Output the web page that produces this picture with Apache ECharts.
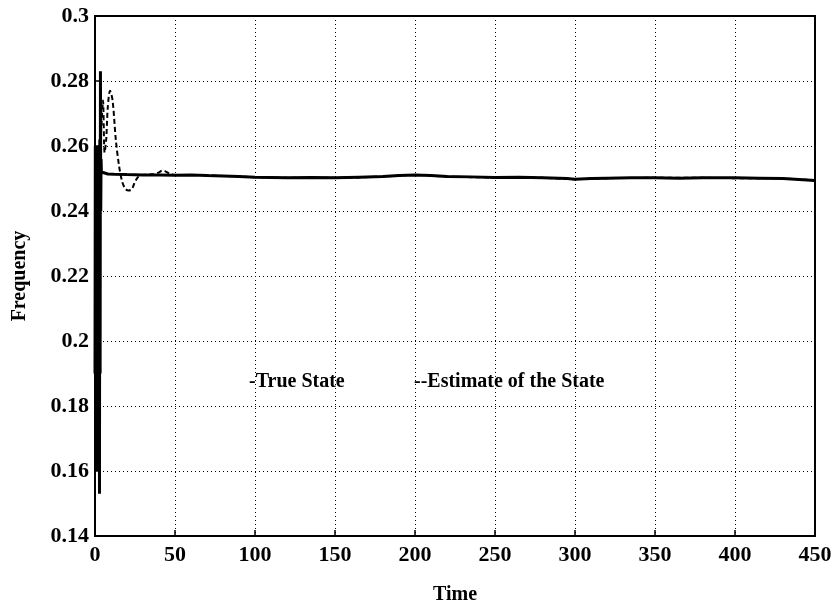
<!DOCTYPE html>
<html><head><meta charset="utf-8">
<script src="https://cdn.jsdelivr.net/npm/echarts@6/dist/echarts.min.js"></script>
<style>html,body{margin:0;padding:0;background:#fff}#c{width:836px;height:613px}</style>
</head><body><div id="c"></div>
<script>
const xTicks = [0,50,100,150,200,250,300,350,400,450];
const yTicks = [0.14,0.16,0.18,0.2,0.22,0.24,0.26,0.28,0.3];

const trueT = [0,0.2,0.4,0.6,0.8,1.0,1.2,1.4,1.6,1.8,2.0,2.2,2.4,2.6,2.8,3.0,3.2,3.4,3.6,3.8,4.0,4.5,5,8,12,20,30,40,50,60,70,80,90,100,110,120,135,150,165,180,190,200,210,220,235,250,265,280,295,300,310,320,335,350,365,380,400,415,430,440,450];
const trueV = [0.19,0.26,0.165,0.258,0.17,0.255,0.16,0.26,0.175,0.258,0.165,0.26,0.18,0.258,0.153,0.262,0.19,0.283,0.24,0.256,0.252,0.2515,0.2514,0.2514,0.2513,0.2512,0.2511,0.2511,0.2510,0.2511,0.2509,0.2508,0.2506,0.2504,0.2503,0.2502,0.2503,0.2502,0.2504,0.2506,0.2509,0.2511,0.2509,0.2506,0.2505,0.2503,0.2504,0.2502,0.2500,0.2498,0.2500,0.2501,0.2502,0.2502,0.2501,0.2502,0.2502,0.2501,0.2500,0.2497,0.2494];

const estT = [0,1,2,3,4,5,6,7,8,9.4,11,13,15,17,19,21,23,25,27,29,33,37,40,42,44,47,50,60,80,100,120,150,180,200,220,250,280,300,320,350,380,400,430,450];
const estV = [0.19,0.24,0.252,0.258,0.266,0.274,0.258,0.262,0.272,0.277,0.274,0.262,0.254,0.249,0.2468,0.2463,0.2467,0.249,0.2505,0.2511,0.2512,0.2514,0.2519,0.2524,0.2522,0.2514,0.2511,0.2511,0.2508,0.2504,0.2502,0.2502,0.2506,0.2511,0.2506,0.2503,0.2502,0.2498,0.2501,0.2502,0.2502,0.2501,0.2500,0.2494];

const annTrue = '-True State';
const annEst = '--Estimate of the State';

const FONT = 'Liberation Serif';
const chart = echarts.init(document.getElementById('c'), null, {renderer:'canvas'});
const pairs = (t, v) => t.map((x, i) => [x, v[i]]);
chart.setOption({
  animation:false,
  backgroundColor:'#fff',
  grid:{left:95, right:21, top:16, bottom:77, show:true, borderColor:'#000', borderWidth:2, backgroundColor:'transparent'},
  xAxis:{type:'value', min:xTicks[0], max:xTicks[xTicks.length-1], interval:50,
    name:'Time', nameLocation:'middle', nameGap:49,
    nameTextStyle:{fontFamily:FONT, fontWeight:'bold', fontSize:20, color:'#000'},
    axisLine:{show:true, lineStyle:{color:'#000', width:2}},
    axisTick:{show:true, inside:true, length:6, lineStyle:{color:'#000', width:1.5}},
    axisLabel:{fontFamily:FONT, fontWeight:'bold', fontSize:22, color:'#000', margin:8},
    splitLine:{show:true, lineStyle:{color:'#000', type:[1,3], width:1}}},
  yAxis:{type:'value', min:yTicks[0], max:yTicks[yTicks.length-1], interval:0.02,
    name:'Frequency', nameLocation:'middle', nameGap:65, nameRotate:90,
    nameTextStyle:{fontFamily:FONT, fontWeight:'bold', fontSize:20, color:'#000'},
    axisLine:{show:true, lineStyle:{color:'#000', width:2}},
    axisTick:{show:true, inside:true, length:6, lineStyle:{color:'#000', width:1.5}},
    axisLabel:{fontFamily:FONT, fontWeight:'bold', fontSize:22, color:'#000', margin:6,
      formatter:v => String(parseFloat(v.toFixed(2)))},
    splitLine:{show:true, lineStyle:{color:'#000', type:[1,3], width:1}}},
  series:[
    {type:'line', name:'True State', data:pairs(trueT, trueV), symbol:'none', smooth:false,
     lineStyle:{color:'#000', width:3}},
    {type:'line', name:'Estimate of the State', data:pairs(estT, estV), symbol:'none', smooth:0.3,
     lineStyle:{color:'#000', width:2, type:[5,3]}}
  ],
  graphic:[
    {type:'text', left:249, top:372, style:{text:annTrue, font:'bold 20px "Liberation Serif"', fill:'#000'}},
    {type:'text', left:414, top:372, style:{text:annEst, font:'bold 20px "Liberation Serif"', fill:'#000'}}
  ]
});
</script></body></html>
